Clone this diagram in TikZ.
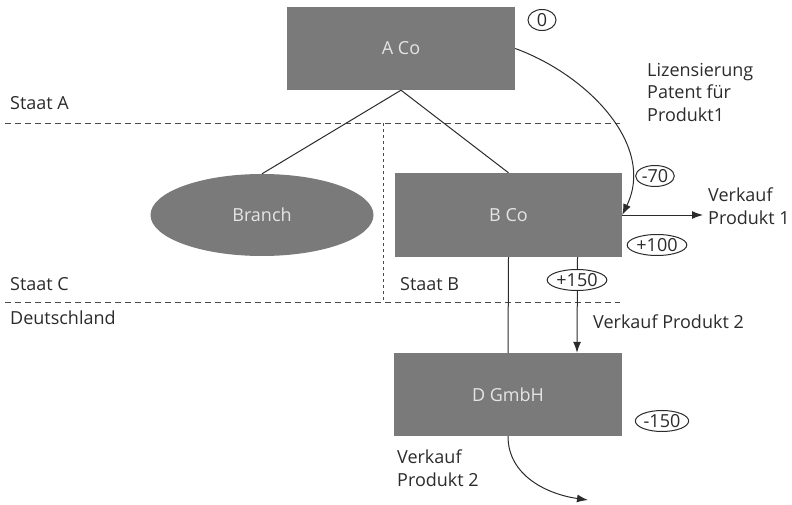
\documentclass[tikz,border=0pt]{standalone}
\usepackage{fontspec}
\setmainfont{Open Sans}
\usetikzlibrary{shapes.geometric,arrows.meta}
\definecolor{boxgray}{HTML}{7A7A7A}
\definecolor{ink}{HTML}{2B2B2B}
\tikzset{
	firm/.style={rectangle,fill=boxgray,text=white!90!black,inner sep=0pt},
	amount/.style={ellipse,draw=ink,fill=white,line width=1pt,inner sep=0.5pt,minimum height=21pt,text=ink},
	border/.style={draw=ink!85,dash pattern=on 6pt off 4pt,line width=0.9pt},
	flow/.style={draw=ink,line width=1pt,-{Latex[length=11pt,width=8pt]}},
	txt/.style={text=ink,align=left,anchor=north west,inner sep=0pt}
}
\begin{document}
\begin{tikzpicture}[x=1pt,y=-1pt,font=\fontsize{18}{22.5}\selectfont]
	\useasboundingbox (0,0) rectangle (792,505);

	% Grenzen
	\draw[border](5,123)--(620,123);
	\draw[border](5,302)--(620,302);
	\draw[border,dash pattern=on 3pt off 3pt](383,123)--(383,302);
	\node[txt] (staatA) at (10,96) {Staat A};
	\node[txt] (staatC) at (10,277) {Staat C};
	\node[txt] (staatB) at (400,277) {Staat B};
	\node[txt] (de) at (10,311) {Deutschland};

	% Gesellschaften
	\node[firm,minimum width=228pt,minimum height=83pt] (aco) at (401,48.5) {A Co};
	\node[firm,ellipse,minimum width=223pt,minimum height=82pt] (branch) at (262,215) {Branch};
	\node[firm,minimum width=227pt,minimum height=84pt] (bco) at (508.5,215) {B Co};
	\node[firm,minimum width=228pt,minimum height=83pt] (dgmbh) at (508,394.5) {D GmbH};

	\draw[ink,line width=1pt](aco.south)--(branch.north);
	\draw[ink,line width=1pt](aco.south)--(bco.north);
	\draw[ink,line width=1pt](bco.south)--(dgmbh.north);

	% Fluesse
	\draw[flow](aco.east) to[out=-20,in=64] (bco.east);
	\coordinate (vk1) at (703,215);
	\draw[flow](bco.east)--(vk1);
	\draw[flow]([xshift=69pt]bco.south)--([xshift=69pt]dgmbh.north);
	\coordinate (vk2) at (588,500);
	\draw[flow](dgmbh.south) to[out=-90,in=172] (vk2);

	\node[amount,minimum width=28pt] (n0) at (542,20) {0};
	\node[amount,minimum width=36pt] (m70) at (655,176) {-70};
	\node[amount] (p100) at (657,245) {+100};
	\node[amount] (p150) at (577,280) {+150};
	\node[amount,minimum width=38pt] (m150) at (662,421) {-150};

	\node[txt] (lizenz) at (647,63) {Lizensierung\\Patent für\\Produkt1};
	\node[txt] (vkp1) at (708,188) {Verkauf\\Produkt 1};
	\node[txt] (vkp2) at (593,315) {Verkauf Produkt 2};
	\node[txt] (vkp2b) at (397,450) {Verkauf\\Produkt 2};
\end{tikzpicture}
\end{document}
